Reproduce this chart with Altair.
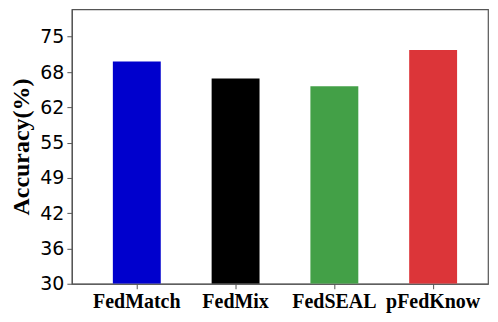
import altair as alt
import pandas as pd

methods = ["FedMatch", "FedMix", "FedSEAL", "pFedKnow"]
accuracy = [70.5, 67.4, 66.0, 72.6]
colors = ["#0000CD", "#000000", "#43A047", "#DC3539"]
y_ticks = [30, 36.43, 42.86, 49.29, 55.71, 62.14, 68.57, 75]

df = pd.DataFrame({"method": methods, "acc": accuracy, "color": colors})

chart = alt.Chart(df).mark_bar(clip=True).encode(
    x=alt.X("method:N", sort=methods,
            scale=alt.Scale(paddingInner=0.515, paddingOuter=0.364, align=0.57),
            axis=alt.Axis(title=None, labelAngle=0, labelFont="Liberation Serif",
                          labelFontWeight="bold", labelFontSize=20, labelColor="#000",
                          labelPadding=3, tickSize=5, tickColor="#555",
                          domainColor="#555", domainWidth=1.2)),
    y=alt.Y("acc:Q", scale=alt.Scale(domain=[30, 80], nice=False, zero=False),
            axis=alt.Axis(title="Accuracy(%)", values=y_ticks,
                          labelExpr="floor(datum.value)",
                          labelFont="DejaVu Sans", labelFontSize=19, labelColor="#000",
                          labelPadding=3, tickSize=5, tickColor="#555",
                          domainColor="#555", domainWidth=1.2, grid=False,
                          titleFont="Liberation Serif", titleFontWeight="bold",
                          titleFontSize=24, titleColor="#000", titlePadding=6)),
    y2=alt.Y2(datum=30),
    color=alt.Color("color:N", scale=None),
).properties(
    width=417, height=275,
    autosize=alt.AutoSizeParams(type="none"),
    padding={"left": 64, "top": 1, "right": 2, "bottom": 30},
).configure_view(stroke="#555", strokeWidth=1.2)

chart.save("out.html", embed_options={"renderer": "svg", "actions": False})
